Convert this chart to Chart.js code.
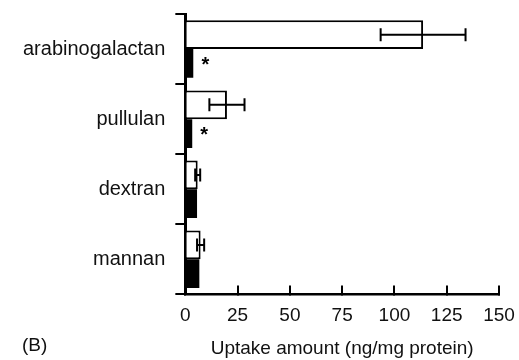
<!DOCTYPE html>
<html>
<head>
<meta charset="utf-8">
<script src="https://cdn.jsdelivr.net/npm/chart.js@4.4.1/dist/chart.umd.min.js"></script>
<style>
  html, body { margin: 0; padding: 0; background: #fff; }
  #wrap { width: 519px; height: 360px; position: relative; }
</style>
</head>
<body>
<div id="wrap"><canvas id="c" width="519" height="360"></canvas></div>
<script>
const categories = ['arabinogalactan', 'pullulan', 'dextran', 'mannan'];
const whiteValues = [113.7, 19.9, 5.9, 7.3];
const whiteErrors = [20.3, 8.4, 1.2, 1.7];
const blackValues = [3.8, 3.3, 5.6, 6.7];
const blackErrors = [0, 0, 0, 0];
const blackMarks = ['*', '*', '', ''];
const xTicks = [0, 25, 50, 75, 100, 125, 150];
const xTitle = 'Uptake amount (ng/mg protein)';
const panelLabel = '(B)';

const FONT = "'Liberation Sans', Arial, sans-serif";

const errorBarPlugin = {
  id: 'errorBars',
  afterDatasetsDraw(chart) {
    const ctx = chart.ctx;
    const xs = chart.scales.x;
    chart.data.datasets.forEach((ds, di) => {
      const meta = chart.getDatasetMeta(di);
      meta.data.forEach((bar, i) => {
        const y = bar.y;
        const v = ds.data[i];
        const e = ds.errors ? ds.errors[i] : 0;
        ctx.save();
        ctx.strokeStyle = '#000';
        ctx.lineWidth = 2;
        if (e > 0) {
          const x1 = xs.getPixelForValue(v - e);
          const x2 = xs.getPixelForValue(v + e);
          const cap = 6.5;
          ctx.beginPath();
          ctx.moveTo(x1, y); ctx.lineTo(x2, y);
          ctx.moveTo(x1, y - cap); ctx.lineTo(x1, y + cap);
          ctx.moveTo(x2, y - cap); ctx.lineTo(x2, y + cap);
          ctx.stroke();
        }
        const m = ds.marks ? ds.marks[i] : '';
        if (m) {
          ctx.fillStyle = '#000';
          ctx.font = 'bold 20px ' + FONT;
          ctx.textAlign = 'center';
          ctx.textBaseline = 'middle';
          ctx.fillText(m, bar.x + 12, y + 2);
        }
        ctx.restore();
      });
    });
  }
};

const panelPlugin = {
  id: 'panelLabel',
  afterDraw(chart) {
    const ctx = chart.ctx;
    const xs = chart.scales.x;
    ctx.save();
    ctx.fillStyle = '#111';
    ctx.font = '19px ' + FONT;
    ctx.textAlign = 'left';
    ctx.textBaseline = 'middle';
    ctx.fillText(panelLabel, 22, xs.bottom - 14);
    ctx.restore();
  }
};

new Chart(document.getElementById('c'), {
  type: 'bar',
  data: {
    labels: categories,
    datasets: [
      {
        data: whiteValues,
        errors: whiteErrors,
        backgroundColor: '#fff',
        borderColor: '#000',
        borderWidth: 2,
        borderSkipped: 'start',
        categoryPercentage: 0.82,
        barPercentage: 1.0
      },
      {
        data: blackValues,
        errors: blackErrors,
        marks: blackMarks,
        backgroundColor: '#000',
        borderColor: '#000',
        borderWidth: 0,
        categoryPercentage: 0.82,
        barPercentage: 1.0
      }
    ]
  },
  options: {
    indexAxis: 'y',
    responsive: false,
    animation: false,
    layout: { padding: { left: 13, right: 20, top: 14, bottom: 0 } },
    plugins: { legend: { display: false }, tooltip: { enabled: false } },
    scales: {
      x: {
        min: 0, max: 150,
        afterBuildTicks(scale) { scale.ticks = xTicks.map(v => ({ value: v })); },
        afterFit(scale) { scale.paddingRight = 0; },
        grid: { drawOnChartArea: false, color: '#000', lineWidth: 2, tickLength: -9 },
        border: { color: '#000', width: 2.5 },
        ticks: { color: '#111', font: { family: FONT, size: 19 }, padding: 19, maxRotation: 0 },
        title: { display: true, text: xTitle, color: '#111', font: { family: FONT, size: 19 }, padding: { top: -9, bottom: 0 } }
      },
      y: {
        offset: true,
        afterFit(scale) { scale.paddingTop = 0; scale.paddingBottom = 0; },
        grid: { offset: true, drawOnChartArea: false, color: '#000', lineWidth: 2, tickLength: 10 },
        border: { color: '#000', width: 3 },
        ticks: { color: '#111', font: { family: FONT, size: 20 }, padding: 10 }
      }
    }
  },
  plugins: [errorBarPlugin, panelPlugin]
});
</script>
</body>
</html>
